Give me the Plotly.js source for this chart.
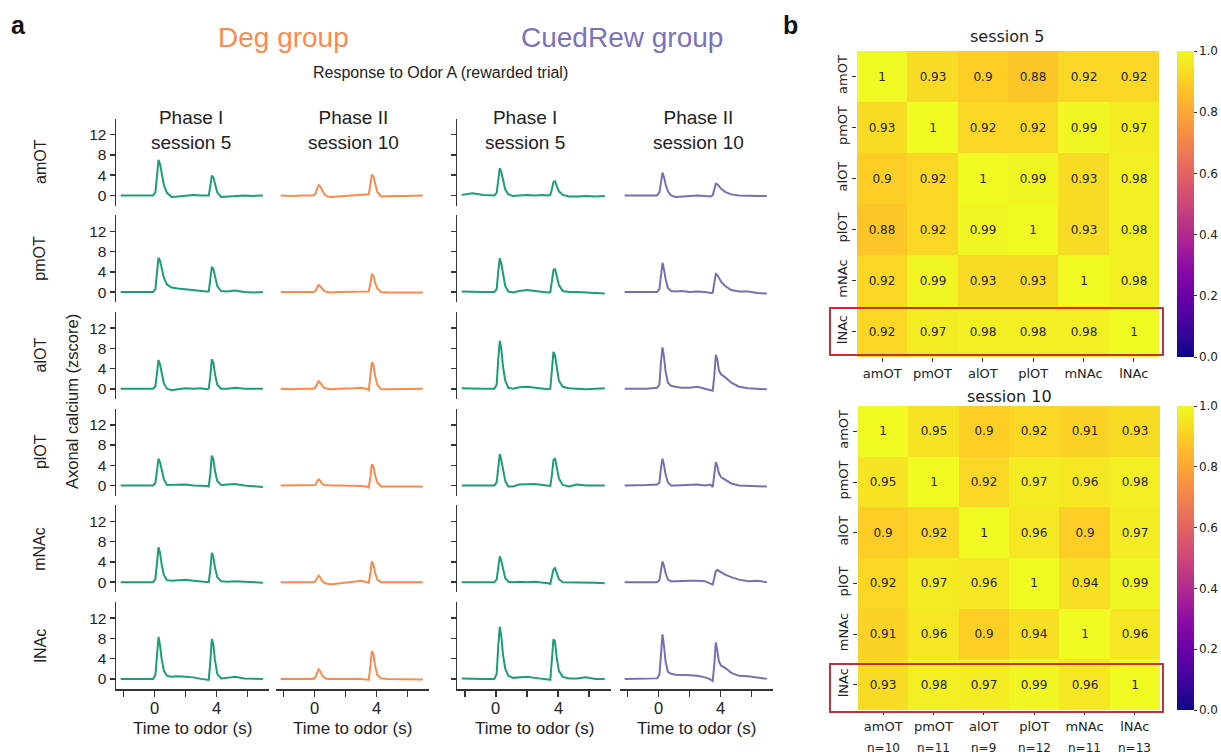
<!DOCTYPE html>
<html><head><meta charset="utf-8">
<script src="https://cdn.plot.ly/plotly-3.0.1.min.js"></script>
<style>html,body{margin:0;padding:0;background:#fff}#plot{width:1221px;height:756px}</style>
</head><body><div id="plot"></div>
<script>
// ---------------- DATA ----------------
const regions = ["amOT","pmOT","alOT","plOT","mNAc","lNAc"];
const columnTitles = ["Phase I<br>session 5","Phase II<br>session 10","Phase I<br>session 5","Phase II<br>session 10"];
const time = [-2.2,-1.5,-0.8,-0.1,0.05,0.15,0.25,0.35,0.45,0.6,0.8,1.1,1.5,2.0,2.5,3.0,3.35,3.5,3.6,3.7,3.8,3.9,4.05,4.3,4.7,5.2,5.8,6.4,7.0];
const xTickVals = [-2,0,2,4,6];
const xTickLabels = ["","0","","4",""];

// Deg group, Phase I session 5 (green)
const degS5_amOT = [0,0,0.1,0,0.6,4.2,7.0,6.2,4.3,2.0,0.5,-0.3,-0.2,0,0.1,0,-0.1,0,1.8,3.9,3.6,2.2,0.6,-0.3,-0.2,-0.1,0,-0.1,0];
const degS5_pmOT = [0,0,0,0,0.6,4.2,6.8,6.2,4.8,2.8,1.5,0.9,0.7,0.5,0.4,0.2,0.1,0.1,2.4,5.0,4.6,3.0,1.2,0.2,0.1,0.3,0,-0.1,0];
const degS5_alOT = [0,0,0,0,0.5,3.4,5.7,4.8,3.0,1.0,0,-0.3,-0.1,0.1,0,0.1,-0.1,0,2.4,5.8,5.2,3.0,0.8,0,0,0.2,0,0,0];
const degS5_plOT = [0,0,0,0,0.5,3.2,5.3,4.6,3.0,1.2,0.1,0.1,0.2,0.2,0,0,-0.1,-0.2,2.2,5.9,5.2,3.0,0.9,0.1,0.2,0.3,0,-0.1,-0.3];
const degS5_mNAc = [0,0,0,0,0.6,4.3,6.9,5.8,3.6,1.4,0.4,0.3,0.4,0.5,0.3,0.1,0,0,2.4,5.8,5.0,3.0,1.0,0.2,0.1,0.2,0.1,0,-0.1];
const degS5_lNAc = [0,0,0,0,0.8,5.2,8.3,6.6,4.0,1.6,0.6,0.4,0.5,0.4,0.3,0,-0.1,-0.2,3.2,7.9,6.8,3.8,1.0,0.1,0.2,0.4,0.1,0,0];

// Deg group, Phase II session 10 (orange)
const degS10_amOT = [0,-0.1,0,0,0.3,1.3,2.0,1.8,1.2,0.4,-0.2,-0.3,-0.2,-0.1,0,0.1,0.1,0.2,2.0,4.1,3.8,2.3,0.7,-0.2,-0.1,-0.1,-0.1,0,0];
const degS10_pmOT = [0,0,0,0,0.2,0.9,1.4,1.2,0.8,0.3,0,-0.1,0,0,0,0.1,0,0.1,1.6,3.5,3.3,2.0,0.7,0,-0.1,-0.1,-0.1,0,-0.1];
const degS10_alOT = [0,-0.1,0,0,0.2,1.0,1.5,1.2,0.7,0.2,0,-0.1,0,0,0.1,0.2,0,-0.3,2.0,5.2,4.8,2.8,0.8,-0.1,-0.1,-0.1,0,0,0];
const degS10_plOT = [0,0,0,0,0.1,0.7,1.2,1.0,0.5,0.1,0,0,0,0,0,-0.1,-0.2,-0.4,1.5,4.2,3.8,2.2,0.6,-0.2,-0.2,-0.2,-0.2,-0.2,-0.2];
const degS10_mNAc = [0,0,0,0,0.2,0.9,1.3,1.0,0.4,-0.1,-0.3,-0.4,-0.3,-0.1,0.1,0.3,0,-0.1,1.6,4.1,3.6,2.0,0.5,0,0,0,0,0,0];
const degS10_lNAc = [0,0,0.1,0,0.3,1.2,1.9,1.6,0.9,0.3,0,0,0,0.1,0.1,0,-0.1,-0.2,2.2,5.5,5.0,2.8,0.8,0.1,0,0,0,-0.1,-0.1];

// CuedRew group, Phase I session 5 (green)
const cueS5_amOT = [0.1,0.4,0.1,0,0.5,3.2,5.4,4.6,3.0,1.2,0.2,-0.1,0,0.1,0,0.1,0,0.1,1.2,2.6,2.8,2.0,0.8,0.1,-0.2,-0.2,-0.1,-0.2,-0.1];
const cueS5_pmOT = [0.1,0,0,0,0.6,4.0,6.7,5.6,3.6,1.2,0.1,-0.1,0.2,0.4,0.2,0,-0.1,0,1.8,4.3,4.6,3.2,1.4,0.2,0,0,-0.1,-0.2,-0.3];
const cueS5_alOT = [0.1,0,0,0,0.8,5.8,9.5,7.8,4.6,1.6,0.2,0,0.3,0.4,0.2,0,-0.1,0,3.0,7.3,6.6,4.2,1.6,0.4,0.1,0,-0.1,0,0.1];
const cueS5_plOT = [0,0,0.1,0,0.6,3.8,6.2,5.0,3.0,0.9,-0.2,-0.2,0.2,0.3,0.3,0.1,0,-0.1,2.0,5.0,5.4,3.6,1.4,0.1,-0.2,0.2,0,0,0];
const cueS5_mNAc = [0,0,0,0,0.5,3.2,5.1,4.2,2.6,0.8,0.1,0,0.1,0,0.1,0,-0.2,-0.3,1.0,2.5,2.8,1.8,0.6,0,0,0,-0.1,-0.1,-0.2];
const cueS5_lNAc = [0.1,0,0,0,1.0,6.4,10.3,8.4,5.0,2.0,0.6,0.2,0.3,0.4,0.2,0.1,-0.1,-0.2,3.2,7.8,7.4,4.4,1.6,0.4,0.1,0.1,0.3,0,0];

// CuedRew group, Phase II session 10 (purple)
const cueS10_amOT = [0,0,0.1,0,0.6,3.0,4.5,3.6,2.2,0.8,0,-0.3,-0.2,0,0,-0.1,-0.2,0,1.2,2.3,2.2,1.8,1.3,0.7,0.2,0,-0.1,-0.1,-0.1];
const cueS10_pmOT = [0,0,0.1,0,0.6,3.8,5.8,4.4,2.6,0.8,0.2,0.1,0.2,0,0.1,0,-0.2,-0.1,1.6,3.6,3.4,2.8,2.0,1.2,0.4,0.1,0.1,-0.2,-0.3];
const cueS10_alOT = [0,0,0,0.2,0.8,5.2,8.2,6.2,3.4,1.2,0.6,0.4,0.2,0.2,0.4,0,-0.3,-0.4,2.6,6.7,5.8,3.6,2.8,2.3,1.2,0.4,0.1,0,-0.1];
const cueS10_plOT = [0,0,0.1,0.2,0.6,3.4,5.3,4.0,2.2,0.6,0,0,0.1,0.1,0.2,0,0.2,-0.3,1.8,4.6,3.8,2.4,1.6,1.2,0.4,0,-0.1,-0.2,-0.2];
const cueS10_mNAc = [0,0,0,0,0.4,2.6,4.1,3.2,1.8,0.5,0.2,0.2,0.3,0.3,0.3,0.2,-0.3,-0.5,0.8,2.2,2.4,2.2,1.9,1.5,1.0,0.5,0.2,0.3,0];
const cueS10_lNAc = [0,0,0.1,0.1,0.8,5.6,8.8,6.4,3.4,1.4,1.0,0.8,0.8,0.7,0.6,0.3,-0.1,-0.4,2.8,7.2,5.6,3.4,2.6,2.2,1.2,0.6,0.5,0.2,0];

// correlation matrices
const corrSession5 = [
  [1,0.93,0.9,0.88,0.92,0.92],
  [0.93,1,0.92,0.92,0.99,0.97],
  [0.9,0.92,1,0.99,0.93,0.98],
  [0.88,0.92,0.99,1,0.93,0.98],
  [0.92,0.99,0.93,0.93,1,0.98],
  [0.92,0.97,0.98,0.98,0.98,1]];
const corrSession10 = [
  [1,0.95,0.9,0.92,0.91,0.93],
  [0.95,1,0.92,0.97,0.96,0.98],
  [0.9,0.92,1,0.96,0.9,0.97],
  [0.92,0.97,0.96,1,0.94,0.99],
  [0.91,0.96,0.9,0.94,1,0.96],
  [0.93,0.98,0.97,0.99,0.96,1]];
const nCounts = [10,11,9,12,11,13];

// ---------------- BUILD ----------------
const W = 1221, H = 756;
const fx = p => p / W;
const fy = p => 1 - p / H;
const ARIAL = "Liberation Sans, Arial, sans-serif";
const DEJAVU = "DejaVu Sans, sans-serif";
const TXT = "#222222";
const AX = "#333333";
const plasma = [[0,"#0d0887"],[0.1,"#41049d"],[0.2,"#6a00a8"],[0.3,"#8f0da4"],[0.4,"#b12a90"],
  [0.5,"#cc4778"],[0.6,"#e16462"],[0.7,"#f2844b"],[0.8,"#fca636"],[0.9,"#fcce25"],[1,"#f0f921"]];

const grid = [
  [degS5_amOT, degS10_amOT, cueS5_amOT, cueS10_amOT],
  [degS5_pmOT, degS10_pmOT, cueS5_pmOT, cueS10_pmOT],
  [degS5_alOT, degS10_alOT, cueS5_alOT, cueS10_alOT],
  [degS5_plOT, degS10_plOT, cueS5_plOT, cueS10_plOT],
  [degS5_mNAc, degS10_mNAc, cueS5_mNAc, cueS10_mNAc],
  [degS5_lNAc, degS10_lNAc, cueS5_lNAc, cueS10_lNAc]];
const colColors = ["#1b9e77", "#fb8a4c", "#1b9e77", "#7570b3"];
const colX = [[116,269],[276,429],[457,611],[620,773]];
const rowPitch = 96.7, rowH = 87, lastBottom = 689;

const data = [];
const layout = {
  width: W, height: H, margin: {l:0, r:0, t:0, b:0},
  paper_bgcolor: "#fff", plot_bgcolor: "rgba(0,0,0,0)",
  showlegend: false, font: {family: ARIAL, color: TXT},
  annotations: [], shapes: []
};

const addText = (x, y, text, size, opts = {}) => layout.annotations.push(Object.assign({
  xref: "paper", yref: "paper", x: fx(x), y: fy(y), xanchor: "center", yanchor: "middle",
  text: text, showarrow: false, font: {size: size, family: ARIAL, color: TXT}}, opts));

for (let r = 0; r < 6; r++) {
  const bottom = lastBottom - (5 - r) * rowPitch, top = bottom - rowH;
  for (let c = 0; c < 4; c++) {
    const idx = r * 4 + c + 1;
    const xn = idx === 1 ? "x" : "x" + idx, yn = idx === 1 ? "y" : "y" + idx;
    data.push({type: "scatter", mode: "lines", x: time, y: grid[r][c], xaxis: xn, yaxis: yn,
      line: {color: colColors[c], width: 2}, hoverinfo: "skip"});
    const xa = {domain: [fx(colX[c][0]), fx(colX[c][1])], range: [-2.5, 7.4], anchor: yn,
      showgrid: false, zeroline: false, fixedrange: true};
    if (r === 5) {
      Object.assign(xa, {showline: true, linecolor: AX, linewidth: 1.5, ticks: "outside", ticklen: 6,
        tickwidth: 1.5, tickcolor: AX, tickvals: xTickVals, showticklabels: false});
      // tick labels and axis title placed as text attached to this axis
      xTickVals.forEach((v, k) => {
        if (xTickLabels[k]) layout.annotations.push({xref: xn, yref: "paper", x: v, y: fy(708),
          xanchor: "center", yanchor: "middle", text: xTickLabels[k], showarrow: false,
          font: {size: 16.5, family: ARIAL, color: TXT}});
      });
      addText((colX[c][0] + colX[c][1]) / 2, 728, "Time to odor (s)", 17);
    } else {
      xa.visible = false;
    }
    const ya = {domain: [fy(bottom), fy(top)], range: [-2, 15.2], anchor: xn,
      showgrid: false, zeroline: false, fixedrange: true};
    if (c === 0 || c === 2) {
      Object.assign(ya, {showline: true, linecolor: AX, linewidth: 1.5, ticks: "outside", ticklen: 5,
        tickwidth: 1.5, tickcolor: AX, tickvals: [0,4,8,12],
        showticklabels: c === 0, tickfont: {size: 15.5, family: ARIAL, color: TXT}});
    } else {
      ya.visible = false;
    }
    layout["xaxis" + (idx === 1 ? "" : idx)] = xa;
    layout["yaxis" + (idx === 1 ? "" : idx)] = ya;
  }
  addText(40, (top + bottom) / 2, regions[r], 16, {textangle: -90});
}

// column titles
const colCenters = [191, 353, 525, 698];
colCenters.forEach((cx, i) => addText(cx, 130, columnTitles[i], 19));

addText(72, 402, "Axonal calcium (zscore)", 16.5, {textangle: -90});
addText(283, 37, "Deg group", 28, {font: {size: 28, family: ARIAL, color: "#fb8a4c"}});
addText(622, 37, "CuedRew group", 28, {font: {size: 28, family: ARIAL, color: "#7a72ba"}});
addText(440, 73, "Response to Odor A (rewarded trial)", 16);
addText(18, 25, "<b>a</b>", 25, {font: {size: 25, family: ARIAL, color: "#111"}});
addText(790, 25, "<b>b</b>", 25, {font: {size: 25, family: ARIAL, color: "#111"}});

// heatmaps
const heat = [
  {z: corrSession5, xd: [857,1159], yd: [51,357], ax: 25, title: "session 5", ty: 36, box: [830,308,1163,355]},
  {z: corrSession10, xd: [858,1160], yd: [406,710], ax: 26, title: "session 10", ty: 396, box: [830,664,1163,712]}];
heat.forEach(h => {
  data.push({type: "heatmap", z: h.z, x: regions, y: regions, xaxis: "x" + h.ax, yaxis: "y" + h.ax,
    colorscale: plasma, zmin: 0, zmax: 1, xgap: 0, ygap: 0,
    text: h.z.map(row => row.map(v => String(v))), texttemplate: "%{text}",
    textfont: {size: 12, family: DEJAVU, color: "#262626"}, hoverinfo: "skip",
    colorbar: {x: fx(1177), xanchor: "left", xpad: 0, y: fy(h.yd[1]), yanchor: "bottom", ypad: 0,
      len: (h.yd[1] - h.yd[0]) / H, lenmode: "fraction", thickness: 17, thicknessmode: "pixels",
      outlinewidth: 0, tickvals: [0,0.2,0.4,0.6,0.8,1.0], ticktext: ["0.0","0.2","0.4","0.6","0.8","1.0"],
      ticks: "outside", ticklen: 3, tickcolor: "#333", tickfont: {size: 12, family: DEJAVU, color: TXT}}});
  layout["xaxis" + h.ax] = {domain: [fx(h.xd[0]), fx(h.xd[1])], anchor: "y" + h.ax, showgrid: false,
    zeroline: false, showline: false, ticks: "outside", ticklen: 4, tickcolor: "#333",
    tickfont: {size: 13, family: DEJAVU, color: TXT}, fixedrange: true};
  layout["yaxis" + h.ax] = {domain: [fy(h.yd[1]), fy(h.yd[0])], anchor: "x" + h.ax, showgrid: false,
    zeroline: false, showline: false, ticks: "outside", ticklen: 4, tickcolor: "#333", autorange: "reversed",
    tickangle: -90, tickfont: {size: 13, family: DEJAVU, color: TXT}, fixedrange: true};
  addText((h.xd[0] + h.xd[1]) / 2, h.ty, h.title, 16, {font: {size: 16, family: DEJAVU, color: TXT}});
  layout.shapes.push({type: "rect", xref: "paper", yref: "paper", x0: fx(h.box[0]), x1: fx(h.box[2]),
    y0: fy(h.box[3]), y1: fy(h.box[1]), line: {color: "#c3303b", width: 2}});
});
// n= labels below session 10
regions.forEach((reg, i) => layout.annotations.push({xref: "x26", yref: "paper", x: reg, y: fy(748),
  xanchor: "center", yanchor: "middle",
  text: "n=" + nCounts[i], showarrow: false, font: {size: 12, family: DEJAVU, color: TXT}}));

Plotly.newPlot("plot", data, layout, {staticPlot: true, displayModeBar: false});
</script></body></html>
